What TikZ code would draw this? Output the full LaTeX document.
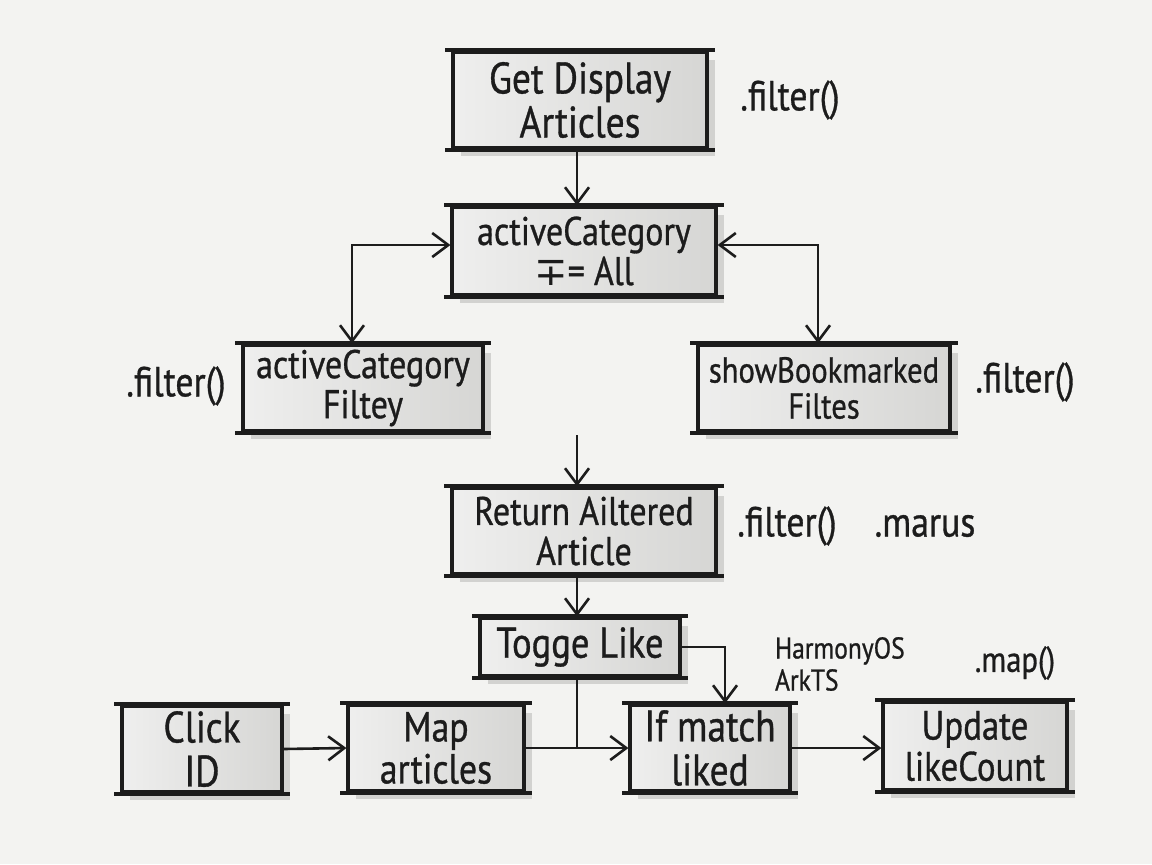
\documentclass[tikz,border=0pt]{standalone}
\usepackage{fontspec}
\setmainfont{PT Sans}[FakeStretch=0.85, FakeBold=0.8]
\newfontfamily\symfont{DejaVu Sans}
\usetikzlibrary{arrows.meta, shadows}
\definecolor{paper}{HTML}{F3F3F1}
\definecolor{boxgray}{HTML}{D6D6D4}
\definecolor{ink}{HTML}{1C1C1C}
\definecolor{shade}{HTML}{C4C4C2}

\newcommand{\fs}[1]{\fontsize{#1}{#1}\selectfont}

\begin{document}
\begin{tikzpicture}[x=0.5pt, y=-0.5pt,
  >={Straight Barb[length=8pt, width=12pt]},
  stepbox/.style={draw=ink, line width=1.6pt, left color=boxgray!40, right color=boxgray,
    align=center, text=ink, inner sep=0pt, font=\fs{20},
    drop shadow={shadow xshift=4pt, shadow yshift=-4pt, fill=shade, opacity=0.7}},
  note/.style={text=ink, font=\fontsize{21}{21}\selectfont},
  link/.style={ink, line width=1.3pt}]

% Background
\useasboundingbox (0,0) rectangle (1152,864);
\fill[paper] (0,0) rectangle (1152,864);

% Boxes
\node[stepbox, minimum width=127pt, minimum height=48pt, font=\fs{22}] (get) at (580,100) {Get Display\\Articles};
\node[stepbox, minimum width=132pt, minimum height=44pt] (cat) at (584,251) {activeCategory\\{\symfont ∓}= All};
\node[stepbox, minimum width=120pt, minimum height=43pt] (catf) at (363,388) {activeCategory\\Filtey};
\node[stepbox, minimum width=126pt, minimum height=43pt, font=\fs{18}] (book) at (824,388) {showBookmarked\\Filtes};
\node[stepbox, minimum width=132pt, minimum height=43pt] (ret) at (584,531) {Return Ailtered\\Article};
\node[stepbox, minimum width=100pt, minimum height=29pt, font=\fs{21.5}] (like) at (580,647) {Togge Like};
\node[stepbox, minimum width=80pt, minimum height=43pt, font=\fs{22}] (click) at (202,749) {Click\\ID};
\node[stepbox, minimum width=88pt, minimum height=43pt, font=\fs{21}] (map) at (436,748) {Map\\articles};
\node[stepbox, minimum width=80pt, minimum height=43pt, font=\fs{22}] (match) at (710,748) {If match\\liked};
\node[stepbox, minimum width=92pt, minimum height=44pt, font=\fs{20.5}] (upd) at (975,746) {Update\\likeCount};

% Sketchy top and bottom strokes
\foreach \n in {get,cat,catf,book,ret,like,click,map,match,upd} {
  \draw[ink, line width=2pt] ([xshift=-3pt]\n.north west) -- ([xshift=3pt]\n.north east);
  \draw[ink, line width=2pt] ([xshift=-3pt]\n.south west) -- ([xshift=3pt]\n.south east);
}

% Side notes
\node[note] (n1) at (790,100) {.filter()};
\node[note] (n2) at (176,386) {.filter()};
\node[note] (n3) at (1025,382) {.filter()};
\node[note] (n4) at (787,526) {.filter()};
\node[note] (n5) at (925,526) {.marus};
\node[note, font=\fontsize{15}{16}\selectfont, align=left, anchor=west] (n6) at (768,664) {HarmonyOS\\ArkTS};
\node[note, font=\fontsize{18}{18}\selectfont] (n7) at (1015,663) {.map()};

% Connectors
\coordinate (top) at (577,435);
\draw[link, ->] ([xshift=-1.5pt]get.south) -- ([xshift=-3.5pt]cat.north);
\draw[link, <->] ([yshift=3pt]cat.west) -| ([xshift=-5.5pt]catf.north);
\draw[link, <->] ([yshift=3pt]cat.east) -| ([xshift=-3pt]book.north);
\draw[link, ->] (top) -- (top |- ret.north);
\draw[link, ->] ([xshift=-3.5pt]ret.south) -- ([xshift=-1.5pt]like.north);
\draw[link, ->] (like.east) -| ([xshift=7.5pt]match.north);
\draw[link] ([xshift=-1.5pt]like.south) -- ([xshift=-1.5pt]like.south |- match.west);
\draw[link, ->] (click.east) -- (map.west);
\draw[link, ->] (map.east) -- (match.west);
\draw[link, ->] (match.east) -- (upd.west |- match.east);

\end{tikzpicture}
\end{document}
